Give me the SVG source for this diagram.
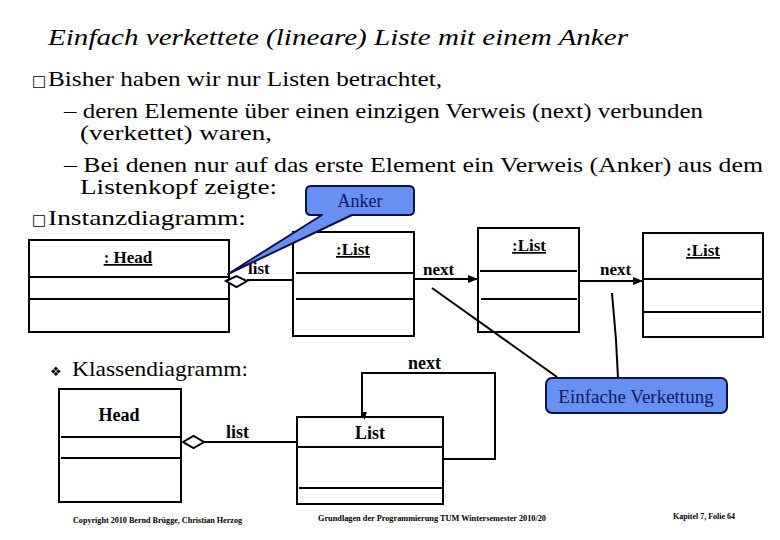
<svg xmlns="http://www.w3.org/2000/svg" width="780" height="540" viewBox="0 0 780 540">
<defs>
<style>
text{font-family:"Liberation Serif","Times New Roman",serif;fill:#000}
.body{font-size:21px}
.b{font-weight:bold;font-size:17px}
.u{text-decoration:underline}
.box{fill:#fff;stroke:#000;stroke-width:2}
.ln{stroke:#000;stroke-width:2;fill:none}
.call{fill:#6690F2;stroke:#10104A;stroke-width:2;stroke-linejoin:round}
.ct{fill:#16165E;font-size:19px}
.foot{font-size:7.5px;font-weight:bold}
</style>
<marker id="arr" viewBox="0 0 10 10" refX="9" refY="5" markerWidth="5" markerHeight="5" orient="auto">
<path d="M0,1 L10,5 L0,9 Z" fill="#000"/>
</marker>
<marker id="dot" viewBox="0 0 10 10" refX="5" refY="8" markerWidth="4" markerHeight="4" orient="auto">
<path d="M0,2 L10,5 L0,8 Z" fill="#000"/>
</marker>
</defs>
<rect width="780" height="540" fill="#fff"/>

<g id="text">
<text x="48" y="45" style="font-size:24px;font-style:italic" textLength="580" lengthAdjust="spacingAndGlyphs">Einfach verkettete (lineare) Liste mit einem Anker</text>
<text class="body" x="32" y="86"><tspan font-family="DejaVu Sans" font-size="15">□</tspan></text>
<text class="body" x="48" y="86" textLength="394" lengthAdjust="spacingAndGlyphs">Bisher haben wir nur Listen betrachtet,</text>
<text class="body" x="64" y="118" textLength="639" lengthAdjust="spacingAndGlyphs">– deren Elemente über einen einzigen Verweis (next) verbunden</text>
<text class="body" x="80" y="140" textLength="192" lengthAdjust="spacingAndGlyphs">(verkettet) waren,</text>
<text class="body" x="64" y="172" textLength="699" lengthAdjust="spacingAndGlyphs">– Bei denen nur auf das erste Element ein Verweis (Anker) aus dem</text>
<text class="body" x="80" y="194" textLength="197" lengthAdjust="spacingAndGlyphs">Listenkopf zeigte:</text>
<text class="body" x="32" y="225"><tspan font-family="DejaVu Sans" font-size="15">□</tspan></text>
<text class="body" x="48" y="225" textLength="198" lengthAdjust="spacingAndGlyphs">Instanzdiagramm:</text>
<text x="50" y="376" style="font-family:'DejaVu Sans',sans-serif;font-size:13px">❖</text>
<text class="body" x="72" y="376" textLength="176" lengthAdjust="spacingAndGlyphs">Klassendiagramm:</text>
</g>

<g id="head-instance">
<rect class="box" x="29" y="240" width="200" height="92"/>
<line class="ln" x1="29" y1="277" x2="229" y2="277"/>
<line class="ln" x1="29" y1="299" x2="229" y2="299"/>
<text class="b u" x="128" y="263" text-anchor="middle">: Head</text>
</g>

<g id="list1-instance">
<rect class="box" x="293" y="232" width="121" height="104"/>
<line class="ln" x1="296" y1="273" x2="414" y2="273"/>
<line class="ln" x1="296" y1="299" x2="414" y2="299"/>
<text class="b u" x="353" y="255" text-anchor="middle">:List</text>
</g>

<g id="list2-instance">
<rect class="box" x="478" y="228" width="101" height="104"/>
<line class="ln" x1="480" y1="271" x2="577" y2="271"/>
<line class="ln" x1="481" y1="299" x2="577" y2="299"/>
<text class="b u" x="529" y="251" text-anchor="middle">:List</text>
</g>

<g id="list3-instance">
<rect class="box" x="643" y="233" width="120" height="104"/>
<line class="ln" x1="643" y1="279" x2="763" y2="279"/>
<line class="ln" x1="643" y1="312" x2="761" y2="312"/>
<text class="b u" x="703" y="256" text-anchor="middle">:List</text>
</g>

<g id="head-class">
<rect class="box" x="59" y="389" width="122" height="113"/>
<line class="ln" x1="61" y1="437" x2="182" y2="437"/>
<line class="ln" x1="61" y1="458" x2="182" y2="458"/>
<text class="b" style="font-size:18px" x="119" y="421" text-anchor="middle">Head</text>
</g>

<g id="list-class">
<rect class="box" x="297" y="417" width="146" height="87"/>
<line class="ln" x1="297" y1="447" x2="443" y2="447"/>
<line class="ln" x1="299" y1="488" x2="443" y2="488"/>
<text class="b" style="font-size:18px" x="370" y="439" text-anchor="middle">List</text>
</g>

<g id="connectors">
<polygon points="226,281 236.5,276 247,281 236.5,287" fill="#fff" stroke="#000" stroke-width="2"/>
<line class="ln" x1="247" y1="280" x2="293" y2="280"/>
<text class="b" x="248" y="274">list</text>
<line class="ln" x1="415" y1="279" x2="477" y2="279" marker-end="url(#arr)"/>
<text class="b" x="423" y="275">next</text>
<line class="ln" x1="580" y1="281" x2="642" y2="281" marker-end="url(#arr)"/>
<text class="b" x="600" y="275">next</text>
<polygon points="183,442 193.5,436 204,442 193.5,448" fill="#fff" stroke="#000" stroke-width="2"/>
<line class="ln" x1="204" y1="442" x2="297" y2="442"/>
<text class="b" style="font-size:18px" x="226" y="438">list</text>
<path class="ln" d="M443 459 H495 V373 H362 V416" marker-end="url(#dot)"/>
<text class="b" style="font-size:18px" x="408" y="369">next</text>
</g>

<g id="anker-callout">
<path class="call" d="M311 186 H409 Q414 186 414 191 V210 Q414 215 409 215 H352 L228 274 L322 215 H311 Q306 215 306 210 V191 Q306 186 311 186 Z"/>
<text class="ct" x="360" y="207" text-anchor="middle" style="font-size:18px">Anker</text>
</g>

<g id="verkettung-callout">
<line class="ln" x1="557" y1="377" x2="432" y2="288"/>
<path class="ln" d="M618 378 L616 340 L612 293"/>
<rect class="call" x="546" y="378" width="181" height="35" rx="6"/>
<text class="ct" x="636" y="403" text-anchor="middle">Einfache Verkettung</text>
</g>

<g id="footer">
<text class="foot" x="73" y="523" textLength="169" lengthAdjust="spacingAndGlyphs">Copyright 2010 Bernd Brügge, Christian Herzog</text>
<text class="foot" x="318" y="521" textLength="228" lengthAdjust="spacingAndGlyphs">Grundlagen der Programmierung  TUM Wintersemester 2010/20</text>
<text class="foot" x="673" y="519" textLength="62" lengthAdjust="spacingAndGlyphs">Kapitel 7, Folie 64</text>
</g>
</svg>
